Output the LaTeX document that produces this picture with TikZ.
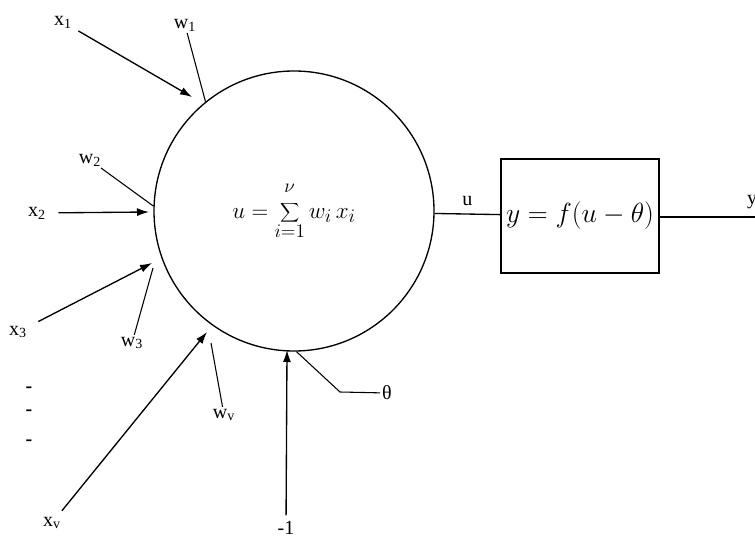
\documentclass[tikz,border=0pt]{standalone}
\usepackage{fontspec}
\setmainfont{Liberation Serif}
\usetikzlibrary{arrows.meta}

\begin{document}
\begin{tikzpicture}[x=0.75pt,y=-0.75pt,>={Latex[length=9pt,width=6pt]},line width=1pt,
  lab/.style={font=\fontsize{15}{17}\selectfont,inner sep=1pt}]
  \useasboundingbox (0,0) rectangle (755,538);
  \node[draw,circle,minimum size=210pt,inner sep=0pt] (N) at (294,211)
    {\fontsize{19}{22}\selectfont$\displaystyle u=\sum_{i=1}^{\nu\rule[-6pt]{0pt}{6pt}}w_i\,x_i$};
  \node[draw,minimum width=118.5pt,minimum height=85.5pt] (F) at (580,216)
    {\fontsize{21}{25}\selectfont$y=f(u-\theta)$};
  \draw (N) -- (F) node[lab,midway,above=5pt]{u};
  \coordinate (Y) at (755,217);
  \draw (F.east|-Y) -- (Y);
  \node[lab] (y) at (752,202) {y};
  % inputs
  \node[lab] (x1) at (63,22) {x\textsubscript{1}};
  \node[lab] (x2) at (37,213) {x\textsubscript{2}};
  \node[lab] (x3) at (18,332) {x\textsubscript{3}};
  \node[lab] (xv) at (52,523) {x\textsubscript{v}};
  \node[lab] (m1) at (286,528) {-1};
  \foreach \y in {390,413,443}
    \node[lab] (d\y) at (29,\y) {\textbf{-}};
  \coordinate (T1) at (192,97);
  \coordinate (T2) at (149,212);
  \coordinate (T3) at (152,263);
  \coordinate (Tv) at (207,332);
  \coordinate (Tb) at (287,350);
  \draw[->,shorten <=4pt] (x1) -- (T1);
  \draw[->,shorten <=8pt] (x2) -- (T2);
  \draw[->,shorten <=8pt] (x3) -- (T3);
  \draw[->,shorten <=4pt] (xv) -- (Tv);
  \draw[->,shorten <=3pt] (m1) -- (Tb);
  % weights
  \node[lab] (w1) at (185,25) {w\textsubscript{1}};
  \node[lab] (w2) at (90,160) {w\textsubscript{2}};
  \node[lab] (w3) at (132,343) {w\textsubscript{3}};
  \node[lab] (wv) at (224,415) {w\textsubscript{v}};
  \node[lab] (th) at (387,393) {θ};
  \coordinate (W3) at (153,268);
  \coordinate (Wv) at (211,343);
  \coordinate (K) at (340,392);
  \draw[line width=0.8pt] (w1) -- (N.129);
  \draw[line width=0.8pt] (w2) -- (N.178);
  \draw[line width=0.8pt] (w3) -- (W3);
  \draw[line width=0.8pt] (wv) -- (Wv);
  \draw[line width=0.8pt] (N.271) -- (K) -- (th);
\end{tikzpicture}
\end{document}
